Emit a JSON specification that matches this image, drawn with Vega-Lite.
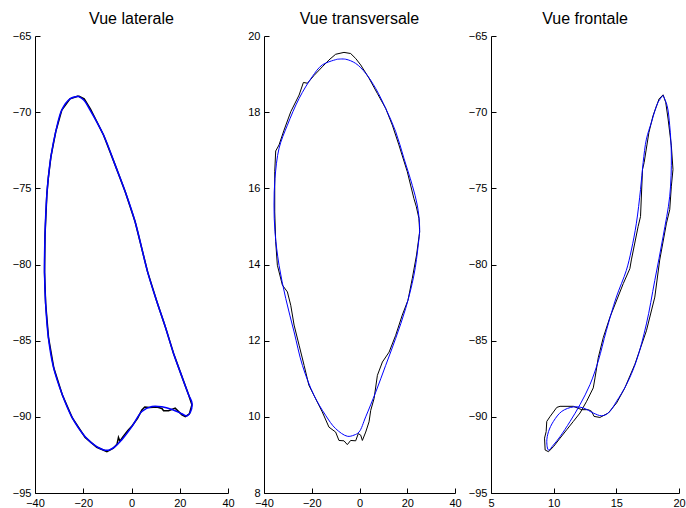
{
  "$schema": "https://vega.github.io/schema/vega-lite/v6.json",
  "padding": {"left": 12, "top": 11, "right": 0, "bottom": 0},
  "background": "white",
  "config": {
    "view": {"stroke": null},
    "axis": {"grid": false, "domainColor": "#000", "tickColor": "#000", "labelColor": "#000", "labelFont": "Liberation Sans", "labelFontSize": 11, "tickSize": -5, "labelPadding": 9, "domainWidth": 1, "tickWidth": 1, "title": null, "labelFlush": false, "labelOverlap": false},
    "title": {"font": "Liberation Sans", "fontSize": 16, "fontWeight": "normal", "anchor": "middle", "frame": "group", "color": "#000", "baseline": "alphabetic", "offset": 3}
  },
  "datasets": {
    "lat": [
      {"s":"fit","i":0,"x":-22.0,"y":-68.96},{"s":"fit","i":1,"x":-25.5,"y":-69.13},{"s":"fit","i":2,"x":-28.9,"y":-69.86},{"s":"fit","i":3,"x":-31.4,"y":-71.28},{"s":"fit","i":4,"x":-33.4,"y":-72.92},{"s":"fit","i":5,"x":-34.5,"y":-74.34},{"s":"fit","i":6,"x":-35.1,"y":-75.43},{"s":"fit","i":7,"x":-35.85,"y":-78.06},{"s":"fit","i":8,"x":-36.05,"y":-80.5},{"s":"fit","i":9,"x":-35.6,"y":-82.54},{"s":"fit","i":10,"x":-34.5,"y":-84.73},{"s":"fit","i":11,"x":-32.4,"y":-86.7},{"s":"fit","i":12,"x":-28.9,"y":-88.45},{"s":"fit","i":13,"x":-24.8,"y":-89.98},{"s":"fit","i":14,"x":-19.2,"y":-91.3},{"s":"fit","i":15,"x":-14.4,"y":-91.95},{"s":"fit","i":16,"x":-10.2,"y":-92.2},{"s":"fit","i":17,"x":-6.8,"y":-91.95},{"s":"fit","i":18,"x":-4.0,"y":-91.5},{"s":"fit","i":19,"x":0.16,"y":-90.64},{"s":"fit","i":20,"x":4.3,"y":-89.65},{"s":"fit","i":21,"x":8.5,"y":-89.32},{"s":"fit","i":22,"x":12.6,"y":-89.34},{"s":"fit","i":23,"x":16.8,"y":-89.52},{"s":"fit","i":24,"x":20.9,"y":-89.8},{"s":"fit","i":25,"x":23.0,"y":-89.95},{"s":"fit","i":26,"x":24.4,"y":-89.7},{"s":"fit","i":27,"x":25.07,"y":-89.1},{"s":"fit","i":28,"x":23.7,"y":-88.56},{"s":"fit","i":29,"x":20.9,"y":-87.36},{"s":"fit","i":30,"x":17.4,"y":-85.82},{"s":"fit","i":31,"x":14.0,"y":-84.08},{"s":"fit","i":32,"x":10.5,"y":-82.43},{"s":"fit","i":33,"x":6.7,"y":-80.5},{"s":"fit","i":34,"x":1.5,"y":-77.19},{"s":"fit","i":35,"x":-2.6,"y":-75.22},{"s":"fit","i":36,"x":-6.8,"y":-73.46},{"s":"fit","i":37,"x":-11.6,"y":-71.5},{"s":"fit","i":38,"x":-17.16,"y":-69.86},{"s":"fit","i":39,"x":-19.8,"y":-69.2},{"s":"fit","i":40,"x":-22.0,"y":-68.96},
      {"s":"raw","i":0,"x":-22.0,"y":-68.94},{"s":"raw","i":1,"x":-25.5,"y":-69.13},{"s":"raw","i":2,"x":-28.9,"y":-69.86},{"s":"raw","i":3,"x":-31.4,"y":-71.28},{"s":"raw","i":4,"x":-33.4,"y":-72.92},{"s":"raw","i":5,"x":-34.5,"y":-74.34},{"s":"raw","i":6,"x":-35.1,"y":-75.43},{"s":"raw","i":7,"x":-35.85,"y":-78.06},{"s":"raw","i":8,"x":-36.05,"y":-80.5},{"s":"raw","i":9,"x":-35.6,"y":-82.54},{"s":"raw","i":10,"x":-34.4,"y":-84.8},{"s":"raw","i":11,"x":-32.2,"y":-86.8},{"s":"raw","i":12,"x":-28.7,"y":-88.55},{"s":"raw","i":13,"x":-24.6,"y":-90.05},{"s":"raw","i":14,"x":-19.2,"y":-91.35},{"s":"raw","i":15,"x":-14.4,"y":-92.0},{"s":"raw","i":16,"x":-10.2,"y":-92.28},{"s":"raw","i":17,"x":-7.5,"y":-92.05},{"s":"raw","i":18,"x":-6.0,"y":-91.8},{"s":"raw","i":19,"x":-5.4,"y":-91.35},{"s":"raw","i":20,"x":-4.8,"y":-91.6},{"s":"raw","i":21,"x":-3.5,"y":-91.3},{"s":"raw","i":22,"x":-1.5,"y":-90.9},{"s":"raw","i":23,"x":0.2,"y":-90.6},{"s":"raw","i":24,"x":2.5,"y":-90.1},{"s":"raw","i":25,"x":4.3,"y":-89.55},{"s":"raw","i":26,"x":5.5,"y":-89.35},{"s":"raw","i":27,"x":7.5,"y":-89.38},{"s":"raw","i":28,"x":10.5,"y":-89.35},{"s":"raw","i":29,"x":12.6,"y":-89.45},{"s":"raw","i":30,"x":13.3,"y":-89.6},{"s":"raw","i":31,"x":15.4,"y":-89.6},{"s":"raw","i":32,"x":18.1,"y":-89.43},{"s":"raw","i":33,"x":20.9,"y":-89.87},{"s":"raw","i":34,"x":22.3,"y":-89.98},{"s":"raw","i":35,"x":24.0,"y":-89.8},{"s":"raw","i":36,"x":25.05,"y":-89.2},{"s":"raw","i":37,"x":23.7,"y":-88.56},{"s":"raw","i":38,"x":20.9,"y":-87.36},{"s":"raw","i":39,"x":17.4,"y":-85.82},{"s":"raw","i":40,"x":14.0,"y":-84.08},{"s":"raw","i":41,"x":10.5,"y":-82.43},{"s":"raw","i":42,"x":6.7,"y":-80.5},{"s":"raw","i":43,"x":1.5,"y":-77.19},{"s":"raw","i":44,"x":-2.6,"y":-75.22},{"s":"raw","i":45,"x":-6.8,"y":-73.46},{"s":"raw","i":46,"x":-11.6,"y":-71.5},{"s":"raw","i":47,"x":-17.0,"y":-69.8},{"s":"raw","i":48,"x":-19.6,"y":-69.12},{"s":"raw","i":49,"x":-22.0,"y":-68.94}
    ],
    "tra": [
      {"s":"fit","i":0,"x":-9.3,"y":19.39},{"s":"fit","i":1,"x":-15.6,"y":19.24},{"s":"fit","i":2,"x":-19.8,"y":18.93},{"s":"fit","i":3,"x":-25.3,"y":18.36},{"s":"fit","i":4,"x":-30.2,"y":17.66},{"s":"fit","i":5,"x":-33.7,"y":17.05},{"s":"fit","i":6,"x":-35.4,"y":16.26},{"s":"fit","i":7,"x":-35.8,"y":15.56},{"s":"fit","i":8,"x":-35.4,"y":14.86},{"s":"fit","i":9,"x":-33.7,"y":13.98},{"s":"fit","i":10,"x":-30.9,"y":13.11},{"s":"fit","i":11,"x":-27.4,"y":12.23},{"s":"fit","i":12,"x":-23.9,"y":11.35},{"s":"fit","i":13,"x":-19.1,"y":10.57},{"s":"fit","i":14,"x":-14.2,"y":10.04},{"s":"fit","i":15,"x":-10.0,"y":9.69},{"s":"fit","i":16,"x":-5.1,"y":9.49},{"s":"fit","i":17,"x":-2.3,"y":9.52},{"s":"fit","i":18,"x":-0.2,"y":9.6},{"s":"fit","i":19,"x":2.6,"y":10.0},{"s":"fit","i":20,"x":6.8,"y":10.65},{"s":"fit","i":21,"x":10.96,"y":11.35},{"s":"fit","i":22,"x":15.15,"y":12.06},{"s":"fit","i":23,"x":19.3,"y":12.84},{"s":"fit","i":24,"x":22.8,"y":13.72},{"s":"fit","i":25,"x":24.6,"y":14.51},{"s":"fit","i":26,"x":25.2,"y":14.95},{"s":"fit","i":27,"x":24.2,"y":15.56},{"s":"fit","i":28,"x":22.1,"y":16.08},{"s":"fit","i":29,"x":18.6,"y":16.79},{"s":"fit","i":30,"x":15.15,"y":17.49},{"s":"fit","i":31,"x":10.96,"y":18.1},{"s":"fit","i":32,"x":6.8,"y":18.62},{"s":"fit","i":33,"x":2.6,"y":19.02},{"s":"fit","i":34,"x":-1.6,"y":19.28},{"s":"fit","i":35,"x":-5.8,"y":19.39},{"s":"fit","i":36,"x":-9.3,"y":19.39},
      {"s":"raw","i":0,"x":-6.5,"y":19.57},{"s":"raw","i":1,"x":-10.0,"y":19.52},{"s":"raw","i":2,"x":-12.8,"y":19.37},{"s":"raw","i":3,"x":-15.6,"y":19.19},{"s":"raw","i":4,"x":-19.1,"y":18.96},{"s":"raw","i":5,"x":-21.8,"y":18.76},{"s":"raw","i":6,"x":-23.5,"y":18.78},{"s":"raw","i":7,"x":-25.3,"y":18.45},{"s":"raw","i":8,"x":-28.8,"y":18.01},{"s":"raw","i":9,"x":-31.6,"y":17.53},{"s":"raw","i":10,"x":-33.7,"y":17.14},{"s":"raw","i":11,"x":-35.1,"y":16.98},{"s":"raw","i":12,"x":-35.5,"y":16.44},{"s":"raw","i":13,"x":-35.5,"y":15.38},{"s":"raw","i":14,"x":-35.1,"y":14.6},{"s":"raw","i":15,"x":-34.4,"y":13.98},{"s":"raw","i":16,"x":-32.3,"y":13.46},{"s":"raw","i":17,"x":-30.2,"y":13.28},{"s":"raw","i":18,"x":-28.8,"y":12.93},{"s":"raw","i":19,"x":-27.4,"y":12.41},{"s":"raw","i":20,"x":-25.3,"y":11.88},{"s":"raw","i":21,"x":-23.2,"y":11.35},{"s":"raw","i":22,"x":-21.2,"y":10.83},{"s":"raw","i":23,"x":-18.4,"y":10.48},{"s":"raw","i":24,"x":-15.6,"y":10.13},{"s":"raw","i":25,"x":-12.8,"y":9.73},{"s":"raw","i":26,"x":-10.0,"y":9.6},{"s":"raw","i":27,"x":-8.6,"y":9.38},{"s":"raw","i":28,"x":-6.5,"y":9.37},{"s":"raw","i":29,"x":-5.1,"y":9.27},{"s":"raw","i":30,"x":-3.7,"y":9.38},{"s":"raw","i":31,"x":-1.6,"y":9.37},{"s":"raw","i":32,"x":-0.5,"y":9.56},{"s":"raw","i":33,"x":0.5,"y":9.52},{"s":"raw","i":34,"x":1.2,"y":9.38},{"s":"raw","i":35,"x":2.6,"y":9.6},{"s":"raw","i":36,"x":4.0,"y":9.87},{"s":"raw","i":37,"x":4.7,"y":10.17},{"s":"raw","i":38,"x":6.1,"y":10.48},{"s":"raw","i":39,"x":7.5,"y":11.09},{"s":"raw","i":40,"x":9.6,"y":11.44},{"s":"raw","i":41,"x":12.4,"y":11.7},{"s":"raw","i":42,"x":15.15,"y":12.14},{"s":"raw","i":43,"x":17.9,"y":12.67},{"s":"raw","i":44,"x":20.3,"y":13.06},{"s":"raw","i":45,"x":22.1,"y":13.63},{"s":"raw","i":46,"x":23.9,"y":14.25},{"s":"raw","i":47,"x":25.2,"y":14.86},{"s":"raw","i":48,"x":24.9,"y":15.21},{"s":"raw","i":49,"x":23.8,"y":15.52},{"s":"raw","i":50,"x":22.8,"y":15.73},{"s":"raw","i":51,"x":20.0,"y":16.44},{"s":"raw","i":52,"x":16.5,"y":17.14},{"s":"raw","i":53,"x":13.75,"y":17.66},{"s":"raw","i":54,"x":10.96,"y":18.1},{"s":"raw","i":55,"x":7.5,"y":18.49},{"s":"raw","i":56,"x":4.0,"y":18.89},{"s":"raw","i":57,"x":0.5,"y":19.24},{"s":"raw","i":58,"x":-1.6,"y":19.41},{"s":"raw","i":59,"x":-3.7,"y":19.54},{"s":"raw","i":60,"x":-6.5,"y":19.57}
    ],
    "fro": [
      {"s":"fit","i":0,"x":18.73,"y":-68.9},{"s":"fit","i":1,"x":18.33,"y":-69.35},{"s":"fit","i":2,"x":17.8,"y":-70.67},{"s":"fit","i":3,"x":17.4,"y":-71.77},{"s":"fit","i":4,"x":17.14,"y":-73.3},{"s":"fit","i":5,"x":16.93,"y":-75.08},{"s":"fit","i":6,"x":16.6,"y":-77.29},{"s":"fit","i":7,"x":16.2,"y":-79.05},{"s":"fit","i":8,"x":15.8,"y":-80.38},{"s":"fit","i":9,"x":15.0,"y":-82.14},{"s":"fit","i":10,"x":14.2,"y":-84.35},{"s":"fit","i":11,"x":13.56,"y":-86.33},{"s":"fit","i":12,"x":12.9,"y":-87.88},{"s":"fit","i":13,"x":12.1,"y":-89.2},{"s":"fit","i":14,"x":11.31,"y":-90.3},{"s":"fit","i":15,"x":10.51,"y":-91.3},{"s":"fit","i":16,"x":9.98,"y":-91.85},{"s":"fit","i":17,"x":9.59,"y":-92.18},{"s":"fit","i":18,"x":9.45,"y":-91.63},{"s":"fit","i":19,"x":9.59,"y":-90.97},{"s":"fit","i":20,"x":9.98,"y":-90.3},{"s":"fit","i":21,"x":10.65,"y":-89.64},{"s":"fit","i":22,"x":11.57,"y":-89.35},{"s":"fit","i":23,"x":12.37,"y":-89.42},{"s":"fit","i":24,"x":13.16,"y":-89.75},{"s":"fit","i":25,"x":13.83,"y":-89.93},{"s":"fit","i":26,"x":14.36,"y":-89.75},{"s":"fit","i":27,"x":15.02,"y":-88.98},{"s":"fit","i":28,"x":15.81,"y":-87.88},{"s":"fit","i":29,"x":16.6,"y":-86.33},{"s":"fit","i":30,"x":17.4,"y":-83.9},{"s":"fit","i":31,"x":18.07,"y":-81.04},{"s":"fit","i":32,"x":18.73,"y":-78.17},{"s":"fit","i":33,"x":19.26,"y":-75.52},{"s":"fit","i":34,"x":19.39,"y":-72.88},{"s":"fit","i":35,"x":19.26,"y":-70.89},{"s":"fit","i":36,"x":19.05,"y":-69.57},{"s":"fit","i":37,"x":18.73,"y":-68.9},
      {"s":"raw","i":0,"x":18.73,"y":-68.86},{"s":"raw","i":1,"x":18.41,"y":-69.13},{"s":"raw","i":2,"x":17.93,"y":-70.23},{"s":"raw","i":3,"x":17.6,"y":-71.33},{"s":"raw","i":4,"x":17.22,"y":-73.3},{"s":"raw","i":5,"x":17.09,"y":-73.76},{"s":"raw","i":6,"x":16.93,"y":-76.85},{"s":"raw","i":7,"x":16.74,"y":-77.5},{"s":"raw","i":8,"x":16.2,"y":-79.7},{"s":"raw","i":9,"x":16.08,"y":-80.27},{"s":"raw","i":10,"x":15.55,"y":-81.26},{"s":"raw","i":11,"x":14.49,"y":-83.46},{"s":"raw","i":12,"x":13.96,"y":-84.79},{"s":"raw","i":13,"x":13.56,"y":-86.11},{"s":"raw","i":14,"x":13.3,"y":-87.44},{"s":"raw","i":15,"x":13.16,"y":-88.1},{"s":"raw","i":16,"x":12.63,"y":-88.98},{"s":"raw","i":17,"x":12.1,"y":-89.75},{"s":"raw","i":18,"x":11.57,"y":-90.3},{"s":"raw","i":19,"x":11.04,"y":-90.85},{"s":"raw","i":20,"x":10.51,"y":-91.4},{"s":"raw","i":21,"x":9.98,"y":-91.96},{"s":"raw","i":22,"x":9.59,"y":-92.29},{"s":"raw","i":23,"x":9.32,"y":-92.18},{"s":"raw","i":24,"x":9.27,"y":-91.4},{"s":"raw","i":25,"x":9.4,"y":-90.97},{"s":"raw","i":26,"x":9.45,"y":-90.3},{"s":"raw","i":27,"x":9.72,"y":-89.97},{"s":"raw","i":28,"x":10.25,"y":-89.38},{"s":"raw","i":29,"x":10.51,"y":-89.31},{"s":"raw","i":30,"x":11.57,"y":-89.31},{"s":"raw","i":31,"x":12.24,"y":-89.53},{"s":"raw","i":32,"x":12.77,"y":-89.53},{"s":"raw","i":33,"x":13.03,"y":-89.64},{"s":"raw","i":34,"x":13.22,"y":-89.97},{"s":"raw","i":35,"x":13.69,"y":-90.04},{"s":"raw","i":36,"x":14.36,"y":-89.75},{"s":"raw","i":37,"x":15.02,"y":-89.09},{"s":"raw","i":38,"x":15.68,"y":-88.1},{"s":"raw","i":39,"x":16.48,"y":-86.55},{"s":"raw","i":40,"x":17.4,"y":-84.35},{"s":"raw","i":41,"x":18.07,"y":-82.14},{"s":"raw","i":42,"x":18.46,"y":-79.71},{"s":"raw","i":43,"x":19.0,"y":-77.29},{"s":"raw","i":44,"x":19.26,"y":-76.4},{"s":"raw","i":45,"x":19.39,"y":-74.86},{"s":"raw","i":46,"x":19.52,"y":-73.76},{"s":"raw","i":47,"x":19.39,"y":-72.21},{"s":"raw","i":48,"x":19.13,"y":-70.45},{"s":"raw","i":49,"x":18.94,"y":-69.35},{"s":"raw","i":50,"x":18.73,"y":-68.86}
    ]
  },
  "bounds": "flush",
  "spacing": 36,
  "hconcat": [
    {
      "title": "Vue laterale",
      "width": 193, "height": 457,
      "data": {"name": "lat"},
      "encoding": {
        "x": {"field": "x", "type": "quantitative", "scale": {"domain": [-40, 40], "nice": false, "zero": false}, "axis": {"values": [-40, -20, 0, 20, 40]}},
        "y": {"field": "y", "type": "quantitative", "scale": {"domain": [-95, -65], "nice": false, "zero": false}, "axis": {"values": [-95, -90, -85, -80, -75, -70, -65]}},
        "order": {"field": "i", "type": "quantitative"}
      },
      "layer": [
        {"transform": [{"filter": "datum.s === 'raw'"}], "mark": {"type": "line", "color": "#000000", "strokeWidth": 1.5}},
        {"transform": [{"filter": "datum.s === 'fit'"}], "mark": {"type": "line", "color": "#0000ff", "strokeWidth": 1.5, "interpolate": "catmull-rom"}}
      ]
    },
    {
      "title": "Vue transversale",
      "width": 191, "height": 457,
      "data": {"name": "tra"},
      "encoding": {
        "x": {"field": "x", "type": "quantitative", "scale": {"domain": [-40, 40], "nice": false, "zero": false}, "axis": {"values": [-40, -20, 0, 20, 40]}},
        "y": {"field": "y", "type": "quantitative", "scale": {"domain": [8, 20], "nice": false, "zero": false}, "axis": {"values": [8, 10, 12, 14, 16, 18, 20]}},
        "order": {"field": "i", "type": "quantitative"}
      },
      "layer": [
        {"transform": [{"filter": "datum.s === 'raw'"}], "mark": {"type": "line", "color": "#000000", "strokeWidth": 1}},
        {"transform": [{"filter": "datum.s === 'fit'"}], "mark": {"type": "line", "color": "#0000ff", "strokeWidth": 1, "interpolate": "catmull-rom"}}
      ]
    },
    {
      "title": "Vue frontale",
      "width": 188, "height": 457,
      "data": {"name": "fro"},
      "encoding": {
        "x": {"field": "x", "type": "quantitative", "scale": {"domain": [5, 20], "nice": false, "zero": false}, "axis": {"values": [5, 10, 15, 20]}},
        "y": {"field": "y", "type": "quantitative", "scale": {"domain": [-95, -65], "nice": false, "zero": false}, "axis": {"values": [-95, -90, -85, -80, -75, -70, -65]}},
        "order": {"field": "i", "type": "quantitative"}
      },
      "layer": [
        {"transform": [{"filter": "datum.s === 'raw'"}], "mark": {"type": "line", "color": "#000000", "strokeWidth": 1}},
        {"transform": [{"filter": "datum.s === 'fit'"}], "mark": {"type": "line", "color": "#0000ff", "strokeWidth": 1, "interpolate": "catmull-rom"}}
      ]
    }
  ]
}
